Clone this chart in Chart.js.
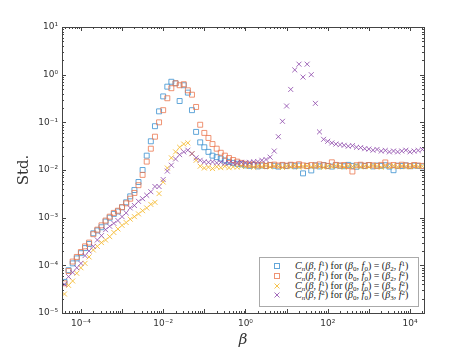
<!DOCTYPE html>
<html>
<head>
<meta charset="utf-8">
<script src="https://cdn.jsdelivr.net/npm/chart.js@4.4.1/dist/chart.umd.min.js"></script>
<style>
  html, body { margin: 0; padding: 0; background: #fff; }
  #wrap { position: relative; width: 469px; height: 352px; }
  #legend {
    position: absolute; left: 259px; top: 257px; width: 160px; height: 50px;
    box-sizing: border-box; border: 1px solid #aaa; background: #fff;
    font-family: 'Liberation Serif', serif; font-size: 10px; color: #222;
    padding-top: 3px;
  }
  .row { position: relative; height: 9.8px; line-height: 9.8px; white-space: nowrap; }
  .mk { position: absolute; left: 13px; top: 1px; }
  .txt { position: absolute; left: 35px; }
  .txt sub { font-size: 70%; line-height: 0; vertical-align: -0.25em; }
  .txt sup { font-size: 70%; line-height: 0; vertical-align: 0.45em; }
</style>
</head>
<body>
<div id="wrap">
  <canvas id="myChart" width="469" height="352"></canvas>
  <div id="legend"></div>
</div>
<script>
// beta grid (10 points per decade)
const betas = [
  3.98e-5, 5.01e-5, 6.31e-5, 7.94e-5,
  1.00e-4, 1.26e-4, 1.58e-4, 2.00e-4, 2.51e-4, 3.16e-4, 3.98e-4, 5.01e-4, 6.31e-4, 7.94e-4,
  1.00e-3, 1.26e-3, 1.58e-3, 2.00e-3, 2.51e-3, 3.16e-3, 3.98e-3, 5.01e-3, 6.31e-3, 7.94e-3,
  1.00e-2, 1.26e-2, 1.58e-2, 2.00e-2, 2.51e-2, 3.16e-2, 3.98e-2, 5.01e-2, 6.31e-2, 7.94e-2,
  1.00e-1, 1.26e-1, 1.58e-1, 2.00e-1, 2.51e-1, 3.16e-1, 3.98e-1, 5.01e-1, 6.31e-1, 7.94e-1,
  1.00, 1.26, 1.58, 2.00, 2.51, 3.16, 3.98, 5.01, 6.31, 7.94,
  10.0, 12.6, 15.8, 20.0, 25.1, 31.6, 39.8, 50.1, 63.1, 79.4,
  100, 126, 158, 200, 251, 316, 398, 501, 631, 794,
  1000, 1260, 1580, 2000, 2510, 3160, 3980, 5010, 6310, 7940,
  10000, 12600, 15800, 20000
];

const stdB2F1 = [
  4.5e-5, 7.9e-5, 1.1e-4, 1.4e-4,
  1.8e-4, 2.3e-4, 2.8e-4, 4.7e-4, 5.4e-4, 6.3e-4, 8.3e-4, 1.0e-3, 1.2e-3, 1.35e-3,
  1.65e-3, 2.1e-3, 2.8e-3, 3.8e-3, 5.6e-3, 1.0e-2, 2.0e-2, 4.0e-2, 8.3e-2, 0.17,
  0.35, 0.56, 0.71, 0.66, 0.28, 0.60, 0.42, 0.18, 0.063, 0.038,
  0.030, 0.024, 0.020, 0.0186, 0.0174, 0.0158, 0.0148, 0.0141, 0.0135, 0.0132,
  0.0125, 0.0122, 0.0128, 0.0119, 0.0124, 0.0121, 0.0127, 0.0123, 0.0118, 0.0125,
  0.0121, 0.0126, 0.0120, 0.0124, 0.0085, 0.0122, 0.0098, 0.0125, 0.0119, 0.0127,
  0.0121, 0.0118, 0.0126, 0.0123, 0.0120, 0.0128, 0.0122, 0.0117, 0.0125, 0.0121,
  0.0127, 0.0119, 0.0124, 0.0122, 0.0126, 0.0118, 0.0099, 0.0123, 0.0121, 0.0125,
  0.0120, 0.0124, 0.0122, 0.0119
];

const stdB2F2 = [
  4.2e-5, 7.6e-5, 1.2e-4, 1.5e-4,
  1.9e-4, 2.5e-4, 3.0e-4, 4.5e-4, 5.6e-4, 6.9e-4, 8.7e-4, 1.05e-3, 1.26e-3, 1.4e-3,
  1.66e-3, 2.0e-3, 2.5e-3, 3.3e-3, 4.8e-3, 7.9e-3, 1.5e-2, 2.8e-2, 5.0e-2, 0.10,
  0.18, 0.32, 0.52, 0.66, 0.60, 0.63, 0.47, 0.38, 0.21, 0.089,
  0.060, 0.047, 0.035, 0.028, 0.023, 0.020, 0.0178, 0.0162, 0.0150, 0.0141,
  0.0135, 0.0128, 0.0131, 0.0125, 0.0129, 0.0122, 0.0127, 0.0130, 0.0124, 0.0128,
  0.0123, 0.0129, 0.0126, 0.0132, 0.0125, 0.0121, 0.0127, 0.0124, 0.0131, 0.0126,
  0.0122, 0.0145, 0.0128, 0.0124, 0.0127, 0.0121, 0.0093, 0.0126, 0.0129, 0.0123,
  0.0127, 0.0125, 0.0121, 0.0128, 0.0144, 0.0124, 0.0127, 0.0122, 0.0129, 0.0125,
  0.0121, 0.0127, 0.0124, 0.0122
];

const stdB3F1 = [
  2.5e-5, 3.8e-5, 4.7e-5, 6.8e-5,
  8.9e-5, 1.1e-4, 1.5e-4, 2.1e-4, 2.5e-4, 3.0e-4, 3.4e-4, 4.0e-4, 4.9e-4, 5.8e-4,
  6.9e-4, 7.9e-4, 9.3e-4, 1.05e-3, 1.2e-3, 1.4e-3, 1.6e-3, 1.9e-3, 2.1e-3, 3.2e-3,
  5.6e-3, 1.1e-2, 1.8e-2, 2.4e-2, 3.0e-2, 3.5e-2, 3.7e-2, 2.2e-2, 1.6e-2, 1.2e-2,
  0.0110, 0.0115, 0.0107, 0.0117, 0.0112, 0.0120, 0.0112, 0.0117, 0.0115, 0.0120,
  0.0118, 0.0122, 0.0114, 0.0120, 0.0117, 0.0123, 0.0116, 0.0121, 0.0119, 0.0113,
  0.0120, 0.0117, 0.0123, 0.0115, 0.0119, 0.0121, 0.0116, 0.0122, 0.0118, 0.0114,
  0.0120, 0.0117, 0.0123, 0.0119, 0.0115, 0.0121, 0.0118, 0.0122, 0.0116, 0.0120,
  0.0117, 0.0123, 0.0119, 0.0114, 0.0120, 0.0118, 0.0122, 0.0116, 0.0121, 0.0119,
  0.0117, 0.0122, 0.0118, 0.0120
];

const stdB3F2 = [
  4.0e-5, 5.8e-5, 7.1e-5, 8.9e-5,
  1.1e-4, 1.6e-4, 2.0e-4, 2.5e-4, 3.4e-4, 4.2e-4, 5.6e-4, 6.6e-4, 7.6e-4, 8.7e-4,
  1.05e-3, 1.26e-3, 1.6e-3, 1.8e-3, 2.2e-3, 2.5e-3, 2.95e-3, 3.5e-3, 4.5e-3, 4.5e-3,
  6.3e-3, 9.5e-3, 1.26e-2, 1.7e-2, 2.1e-2, 2.4e-2, 2.6e-2, 2.2e-2, 1.8e-2, 1.6e-2,
  0.0148, 0.0145, 0.0148, 0.0141, 0.0145, 0.0138, 0.0141, 0.0138, 0.0141, 0.0145,
  0.0141, 0.0145, 0.0148, 0.0150, 0.0160, 0.0166, 0.0186, 0.025, 0.050, 0.105,
  0.22, 0.49, 1.26, 1.66, 0.89, 1.66, 1.0, 0.25, 0.063, 0.044,
  0.040, 0.037, 0.035, 0.034, 0.033, 0.0316, 0.0324, 0.030, 0.0295, 0.028,
  0.0275, 0.026, 0.027, 0.025, 0.0257, 0.024, 0.025, 0.024, 0.025, 0.026,
  0.024, 0.025, 0.0257, 0.027
];

const xTickValues = [1e-4, 1e-2, 1, 1e2, 1e4];
const yTickValues = [1e-5, 1e-4, 1e-3, 1e-2, 1e-1, 1, 10];

const legendLabels = [
  '<i>C<sub>n</sub></i>(<i>β</i>, <i>f</i><sup>1</sup>) for (<i>β</i><sub>0</sub>, <i>f</i><sub>0</sub>) = (<i>β</i><sub>2</sub>, <i>f</i><sup>1</sup>)',
  '<i>C<sub>n</sub></i>(<i>β</i>, <i>f</i><sup>1</sup>) for (<i>b</i><sub>0</sub>, <i>f</i><sub>0</sub>) = (<i>β</i><sub>2</sub>, <i>f</i><sup>2</sup>)',
  '<i>C<sub>n</sub></i>(<i>β</i>, <i>f</i><sup>1</sup>) for (<i>β</i><sub>0</sub>, <i>f</i><sub>0</sub>) = (<i>β</i><sub>3</sub>, <i>f</i><sup>2</sup>)',
  '<i>C<sub>n</sub></i>(<i>β</i>, <i>f</i><sup>2</sup>) for (<i>β</i><sub>0</sub>, <i>f</i><sub>0</sub>) = (<i>β</i><sub>3</sub>, <i>f</i><sup>2</sup>)'
];

const seriesValues = [stdB2F1, stdB2F2, stdB3F1, stdB3F2];
const colors = ['rgba(70,150,210,0.85)', 'rgba(235,120,80,0.8)', 'rgba(245,185,45,0.85)', 'rgba(140,70,170,0.8)'];
const styles = ['rect', 'rect', 'crossRot', 'crossRot'];

const sup = { '-': '⁻', '0': '⁰', '1': '¹', '2': '²', '3': '³', '4': '⁴', '5': '⁵' };
function powLabel(v) {
  const e = String(Math.round(Math.log10(v)));
  return '10' + e.split('').map(c => sup[c]).join('');
}

// matplotlib-like frame with inward ticks on all sides
const frameTicks = {
  id: 'frameTicks',
  afterDatasetsDraw(chart) {
    const { ctx, chartArea: a, scales: { x, y } } = chart;
    ctx.save();
    ctx.strokeStyle = '#444';
    ctx.lineWidth = 1;
    ctx.strokeRect(a.left + 0.5, a.top + 0.5, a.right - a.left, a.bottom - a.top);
    ctx.beginPath();
    for (let d = -6; d <= 5; d++) {
      for (let m = 1; m <= 9; m++) {
        const v = m * Math.pow(10, d);
        const len = m === 1 ? 4 : 2;
        if (v >= x.min && v <= x.max) {
          const px = Math.round(x.getPixelForValue(v)) + 0.5;
          ctx.moveTo(px, a.bottom); ctx.lineTo(px, a.bottom - len);
          ctx.moveTo(px, a.top); ctx.lineTo(px, a.top + len);
        }
        if (v >= y.min && v <= y.max) {
          const py = Math.round(y.getPixelForValue(v)) + 0.5;
          ctx.moveTo(a.left, py); ctx.lineTo(a.left + len, py);
          ctx.moveTo(a.right, py); ctx.lineTo(a.right - len, py);
        }
      }
    }
    ctx.stroke();
    ctx.restore();
  }
};

const ctx = document.getElementById('myChart').getContext('2d');

const data = {
  datasets: seriesValues.map((vals, i) => ({
    label: 'series ' + (i + 1),
    data: betas.map((b, k) => ({ x: b, y: vals[k] })),
    pointStyle: styles[i],
    pointRadius: 3.5,
    borderColor: colors[i],
    backgroundColor: 'rgba(0,0,0,0)',
    borderWidth: 1,
    showLine: false,
    order: 3 - i
  }))
};

const config = {
  type: 'scatter',
  data: data,
  options: {
    responsive: false,
    animation: false,
    devicePixelRatio: 1,
    layout: { padding: { left: 0, top: 27, right: 45, bottom: 0 } },
    scales: {
      x: {
        type: 'logarithmic',
        position: 'bottom',
        bounds: 'data',
        min: 3.47e-5,
        max: 2.19e4,
        grid: { display: false, drawTicks: false },
        border: { display: false },
        ticks: {
          padding: 5,
          autoSkip: false,
          maxRotation: 0,
          color: '#333',
          font: { family: 'DejaVu Sans', size: 9 },
          callback: (v) => powLabel(v)
        },
        afterBuildTicks: (s) => { s.ticks = xTickValues.map(v => ({ value: v })); },
        afterFit: (s) => { s.height = 39; },
        title: {
          display: true,
          text: 'β',
          color: '#333',
          font: { family: 'DejaVu Serif', style: 'italic', size: 15 },
          padding: { top: 0, bottom: 3 }
        }
      },
      y: {
        type: 'logarithmic',
        bounds: 'data',
        min: 1e-5,
        max: 10,
        grid: { display: false, drawTicks: false },
        border: { display: false },
        ticks: {
          padding: 4,
          autoSkip: false,
          color: '#333',
          font: { family: 'DejaVu Sans', size: 9 },
          callback: (v) => powLabel(v)
        },
        afterBuildTicks: (s) => { s.ticks = yTickValues.map(v => ({ value: v })); },
        afterFit: (s) => { s.width = 62; },
        title: {
          display: true,
          text: 'Std.',
          color: '#333',
          font: { family: 'DejaVu Serif', size: 15 },
          padding: { top: 15, bottom: 0 }
        }
      }
    },
    plugins: {
      legend: { display: false },
      tooltip: { enabled: false }
    }
  },
  plugins: [frameTicks]
};

const myChart = new Chart(ctx, config);

// legend box in the lower right corner
const legendEl = document.getElementById('legend');
legendLabels.forEach((lab, i) => {
  const mk = styles[i] === 'rect'
    ? `<svg width="8" height="8"><rect x="1.5" y="1.5" width="5" height="5" fill="none" stroke="${colors[i]}" stroke-width="1"/></svg>`
    : `<svg width="8" height="8"><path d="M1.5 1.5 L6.5 6.5 M6.5 1.5 L1.5 6.5" stroke="${colors[i]}" stroke-width="1"/></svg>`;
  legendEl.insertAdjacentHTML('beforeend',
    `<div class="row"><span class="mk">${mk}</span><span class="txt">${lab}</span></div>`);
});
</script>
</body>
</html>
